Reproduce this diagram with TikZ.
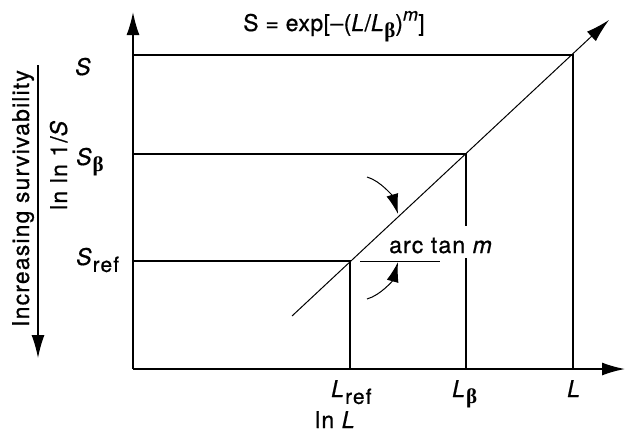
\documentclass[tikz,border=0pt]{standalone}
\usepackage{fontspec}
\setmainfont{TeX Gyre Heros}[LetterSpace=5,FakeBold=0.7]
\newfontfamily\grkfont{Liberation Serif}
\usetikzlibrary{arrows.meta}
\newcommand{\lowsub}[1]{\raisebox{-0.3em}{\fontsize{21}{21}\selectfont #1}}
\newcommand{\highsup}[1]{\raisebox{0.45em}{\fontsize{18}{18}\selectfont #1}}
\newcommand{\bbeta}{{\grkfont\bfseries β}}
\begin{document}
\begin{tikzpicture}[x=1pt,y=-1pt,
  lbl/.style={inner sep=0pt, font=\fontsize{23}{27}\selectfont},
  frameline/.style={line width=2.2pt},
  axisline/.style={line width=1.6pt, -{Latex[length=23pt,width=13pt]}},
  diagline/.style={line width=1pt, -{Latex[length=24pt,width=13pt]}},
  thinline/.style={line width=1pt},
  bendarrow/.style={line width=1pt, -{Latex[length=20pt,width=12pt]}}]
\useasboundingbox (0,0) rectangle (637,432);
% coordinates
\coordinate (O) at (133,369);
\coordinate (Ytop) at (133,12);
\coordinate (Xend) at (625,369);
\coordinate (S1) at (133,55);
\coordinate (C1) at (573,55);
\coordinate (F1) at (573,369);
\coordinate (S2) at (133,154);
\coordinate (C2) at (466,154);
\coordinate (F2) at (466,369);
\coordinate (S3) at (133,261);
\coordinate (C3) at (350,261);
\coordinate (F3) at (350,369);
\coordinate (D0) at (292,316);
\coordinate (D1) at (609,20);
\coordinate (H0) at (360,261);
\coordinate (H1) at (440,261);
\coordinate (A0) at (367,177);
\coordinate (A1) at (398,214);
\coordinate (B0) at (367,299);
\coordinate (B1) at (398,262);
\coordinate (V0) at (38,65);
\coordinate (V1) at (38,358);
% axes
\draw[axisline] (O) -- (Ytop);
\draw[axisline] (O) -- (Xend);
% frames
\draw[frameline] (S1) -- (C1) -- (F1);
\draw[frameline] (S2) -- (C2) -- (F2);
\draw[frameline] (S3) -- (C3) -- (F3);
% diagonal
\draw[diagline] (D0) -- (D1);
\draw[thinline] (H0) -- (H1);
\draw[bendarrow] (A0) .. controls (381,181) and (393,197) .. (A1);
\draw[bendarrow] (B0) .. controls (381,295) and (393,280) .. (B1);
\draw[axisline, line width=1.2pt] (V0) -- (V1);
% labels
\node[lbl, anchor=base] (title) at (334,31) {\addfontfeature{LetterSpace=2}S = exp[–(\textit{L}/\textit{L}\lowsub{\bbeta})\highsup{\textit{m}}]};
\node[lbl, anchor=base west] (lS) at (75,75) {\textit{S}};
\node[lbl, anchor=base west] (lSb) at (76,165) {\textit{S}\lowsub{\bbeta}};
\node[lbl, anchor=base west] (lSr) at (76,265) {\textit{S}\lowsub{ref}};
\node[lbl, anchor=base west] (lLr) at (331,397) {\textit{L}\lowsub{ref}};
\node[lbl, anchor=base west] (lLb) at (452,397) {\textit{L}\lowsub{\bbeta}};
\node[lbl, anchor=base west] (lL) at (567,397) {\textit{L}};
\node[lbl, anchor=base west] (lnL) at (315,428) {ln \textit{L}};
\node[lbl, anchor=base west, fill=white, text height=27pt, text depth=5pt] (arc) at (389,253) {arc tan \textit{m}};
\node[lbl, anchor=base west, rotate=90] (lnln) at (67,210) {ln ln 1/\textit{S}};
\node[lbl, anchor=base west, rotate=90] (inc) at (29,327) {Increasing survivability};
\end{tikzpicture}
\end{document}
